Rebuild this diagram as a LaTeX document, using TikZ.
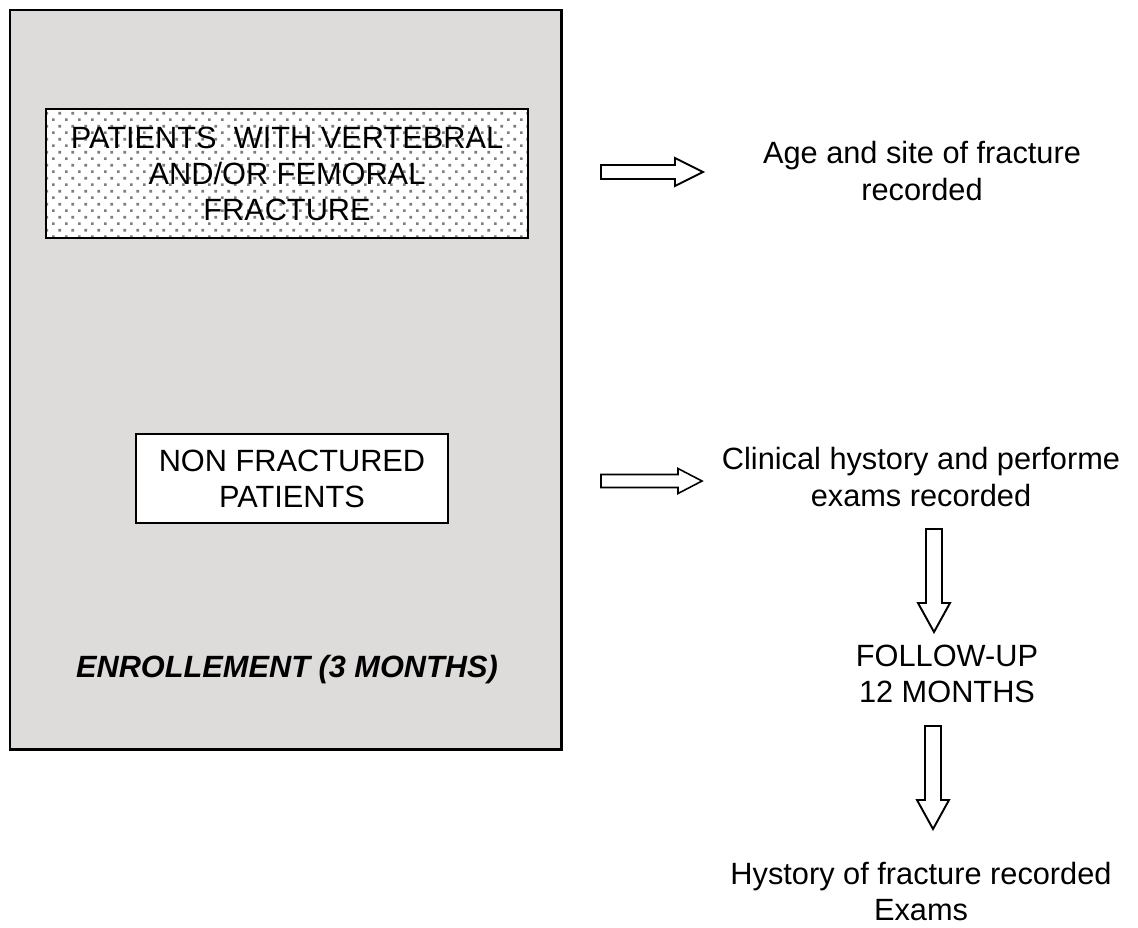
\documentclass[tikz,border=0pt]{standalone}
\usepackage{fontspec}
\setmainfont{Liberation Sans}
\usetikzlibrary{patterns.meta,positioning}
\definecolor{boxgray}{RGB}{222,219,219}
\definecolor{dotgray}{RGB}{125,125,125}
\tikzdeclarepattern{
  name=sparsedots,
  bounding box={(0,0) and (0.26cm,0.26cm)},
  tile size={(0.26cm,0.26cm)},
  code={\fill (0.02cm,0.02cm) rectangle (0.075cm,0.075cm);
        \fill (0.15cm,0.15cm) rectangle (0.205cm,0.205cm);}
}

\begin{document}
\begin{tikzpicture}[x=0.02cm,y=-0.02cm,
  txt/.style={align=center,font=\fontsize{17.5}{20.5}\selectfont},
  blockarr/.style={draw=black,line width=1.1pt,fill=white,line join=miter}]
			\useasboundingbox (0,0) rectangle (1138,927);
			\draw[line width=1.7pt,fill=boxgray] (10,10) rectangle (561,749);
			% left side
			\node[txt,draw,line width=1.5pt,preaction={fill=white},pattern=sparsedots,pattern color=dotgray,
			      minimum width=9.64cm,minimum height=2.58cm,inner sep=0pt] (frac) at (287,173.5)
			      {PATIENTS\ \ WITH VERTEBRAL\\AND/OR FEMORAL\\FRACTURE};
			\node[txt,draw,line width=1.2pt,fill=white,minimum width=6.24cm,minimum height=1.78cm,inner sep=0pt]
			      (nonfrac) at (292,478.5) {NON FRACTURED\\PATIENTS};
			\node[txt,font=\fontsize{17.5}{20.5}\selectfont\bfseries\itshape] (enrol) at (287,670) {ENROLLEMENT (3 MONTHS)};
			% right side
			\node[txt] (agesite) at (922,171) {Age and site of fracture\\recorded};
			\node[txt] (clinical) at (921,477) {Clinical hystory and performe\\exams recorded};
			\node[txt] (follow) at (947,674) {FOLLOW-UP\\12 MONTHS};
			\node[txt] (hist) at (921,891) {Hystory of fracture recorded\\Exams};
			% block arrows
			\coordinate (a1) at (601,172);
			\coordinate (a2) at (601,481);
			\coordinate (d1) at (934,529);
			\coordinate (d2) at (933,726);
			\draw[blockarr] (a1) ++(0,-7) -- ++(74,0) -- ++(0,-7) -- ++(28,14) -- ++(-28,14) -- ++(0,-7) -- ++(-74,0) -- cycle;
			\draw[blockarr,line width=0.9pt] (a2) ++(0,-6.5) -- ++(77,0) -- ++(0,-6) -- ++(24,12.5) -- ++(-24,12.5) -- ++(0,-6) -- ++(-77,0) -- cycle;
			\draw[blockarr] (d1) ++(-8,0) -- ++(0,74) -- ++(-8,0) -- ++(16,29) -- ++(16,-29) -- ++(-8,0) -- ++(0,-74) -- cycle;
			\draw[blockarr] (d2) ++(-8,0) -- ++(0,74) -- ++(-8,0) -- ++(16,29) -- ++(16,-29) -- ++(-8,0) -- ++(0,-74) -- cycle;
\end{tikzpicture}
\end{document}
